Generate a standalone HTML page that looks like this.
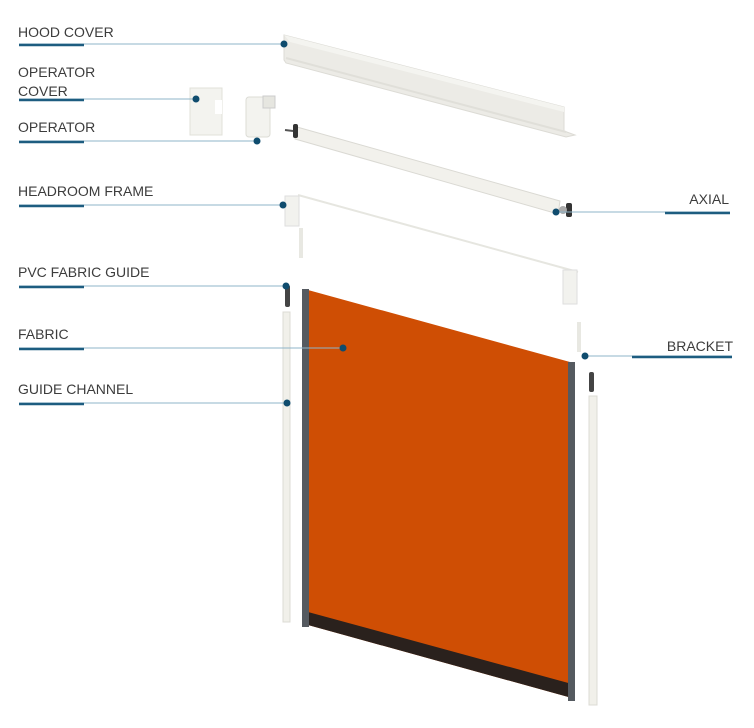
<!DOCTYPE html>
<html><head><style>
body{margin:0;background:#fff;}
svg text{font-family:"Liberation Sans",sans-serif;font-size:14px;fill:#3c3c3c;}
</style></head><body>
<svg width="754" height="723" viewBox="0 0 754 723" xmlns="http://www.w3.org/2000/svg">
<!-- hood cover -->
<polygon points="284,35 564,107 564,131 575,135 566,137 286,63 284,60" fill="#ecebe6" stroke="#dcdbd5" stroke-width="1"/>
<polygon points="284,35 564,107 564,112 290,42" fill="#f4f4f0"/>
<line x1="286" y1="58" x2="566" y2="132" stroke="#e0dfd9" stroke-width="2"/>
<!-- operator cover -->
<rect x="190" y="88" width="32" height="47" fill="#f3f3ef" stroke="#e0e0da"/>
<rect x="215" y="100" width="7" height="14" fill="#fff"/>
<!-- operator -->
<rect x="246" y="97" width="24" height="40" rx="3" fill="#f3f3ef" stroke="#dcdcd6"/>
<rect x="263" y="96" width="12" height="12" fill="#e6e6e0" stroke="#ccc"/>
<!-- roller tube -->
<polygon points="297,127 560,201 558,214 295,139" fill="#f2f1ec" stroke="#dad9d3"/>
<rect x="293" y="124" width="5" height="14" rx="2" fill="#333"/>
<line x1="285" y1="130" x2="293" y2="131" stroke="#555" stroke-width="2"/>
<rect x="566" y="203" width="6" height="14" rx="2" fill="#333"/>
<circle cx="563" cy="210" r="4" fill="#aaa"/>
<!-- headroom frame -->
<line x1="298" y1="195" x2="578" y2="272" stroke="#e6e6e0" stroke-width="2"/>
<rect x="285" y="196" width="14" height="30" fill="#f2f2ee" stroke="#dedede"/>
<rect x="299" y="228" width="4" height="30" fill="#e8e8e2"/>
<rect x="563" y="270" width="14" height="34" fill="#f2f2ee" stroke="#dedede"/>
<rect x="577" y="322" width="4" height="30" fill="#e8e8e2"/>
<!-- pvc guides -->
<rect x="285" y="285" width="5" height="22" rx="2" fill="#444"/>
<rect x="589" y="372" width="5" height="20" rx="2" fill="#444"/>
<!-- guide channels -->
<rect x="283" y="312" width="7" height="310" fill="#f1f0ea" stroke="#dcdbd4"/>
<rect x="589" y="396" width="8" height="309" fill="#f1f0ea" stroke="#dcdbd4"/>
<!-- fabric -->
<polygon points="308,290 570,362 572,698 308,625" fill="#cf4e04"/>
<polygon points="308,612 572,684 572,698 308,625" fill="#2a211d"/>
<rect x="302" y="289" width="7" height="338" fill="#555a60"/>
<rect x="568" y="362" width="7" height="339" fill="#555a60"/>
<!-- labels -->
<g stroke="#8fb4c8" stroke-width="1">
<line x1="19" y1="44" x2="284" y2="44"/>
<line x1="19" y1="99" x2="196" y2="99"/>
<line x1="19" y1="141" x2="257" y2="141"/>
<line x1="19" y1="205" x2="283" y2="205"/>
<line x1="19" y1="286" x2="286" y2="286"/>
<line x1="19" y1="348" x2="343" y2="348"/>
<line x1="19" y1="403" x2="287" y2="403"/>
<line x1="556" y1="212" x2="730" y2="212"/>
<line x1="585" y1="356" x2="732" y2="356"/>
</g>
<g stroke="#1d5d80" stroke-width="2.5">
<line x1="19" y1="45" x2="84" y2="45"/>
<line x1="19" y1="100" x2="84" y2="100"/>
<line x1="19" y1="142" x2="84" y2="142"/>
<line x1="19" y1="206" x2="84" y2="206"/>
<line x1="19" y1="287" x2="84" y2="287"/>
<line x1="19" y1="349" x2="84" y2="349"/>
<line x1="19" y1="404" x2="84" y2="404"/>
<line x1="665" y1="213" x2="730" y2="213"/>
<line x1="632" y1="357" x2="732" y2="357"/>
</g>
<g fill="#0f4c6e">
<circle cx="284" cy="44" r="3.5"/><circle cx="196" cy="99" r="3.5"/><circle cx="257" cy="141" r="3.5"/>
<circle cx="283" cy="205" r="3.5"/><circle cx="286" cy="286" r="3.5"/><circle cx="343" cy="348" r="3.5"/>
<circle cx="287" cy="403" r="3.5"/><circle cx="556" cy="212" r="3.5"/><circle cx="585" cy="356" r="3.5"/>
</g>
<text x="18" y="37">HOOD COVER</text>
<text x="18" y="77">OPERATOR</text>
<text x="18" y="96">COVER</text>
<text x="18" y="132">OPERATOR</text>
<text x="18" y="196">HEADROOM FRAME</text>
<text x="18" y="277">PVC FABRIC  GUIDE</text>
<text x="18" y="339">FABRIC</text>
<text x="18" y="394">GUIDE CHANNEL</text>
<text x="729" y="204" text-anchor="end">AXIAL</text>
<text x="733" y="351" text-anchor="end">BRACKET</text>
</svg>
</body></html>
